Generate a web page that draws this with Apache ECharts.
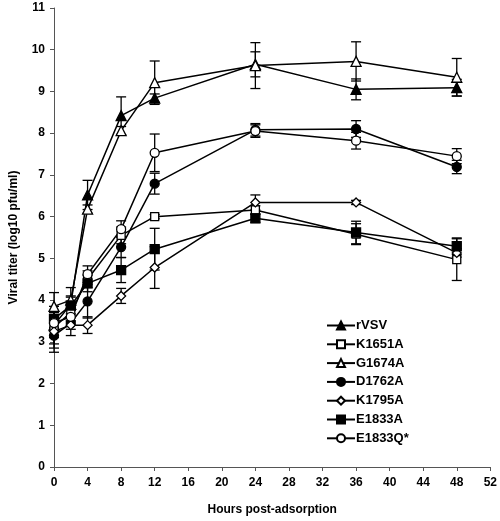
<!DOCTYPE html>
<html>
<head>
<meta charset="utf-8">
<script src="https://cdn.jsdelivr.net/npm/echarts@6/dist/echarts.min.js"></script>
<style>html,body{margin:0;padding:0;background:#fff;}#c{width:500px;height:521px;}</style>
</head>
<body>
<div id="c"></div>
<script>
var hours = [0, 2, 4, 8, 12, 24, 36, 48];
var xTicks = [0, 4, 8, 12, 16, 20, 24, 28, 32, 36, 40, 44, 48, 52];
var yTicks = [0, 1, 2, 3, 4, 5, 6, 7, 8, 9, 10, 11];

var seriesNames = ['rVSV', 'K1651A', 'G1674A', 'D1762A', 'K1795A', 'E1833A', 'E1833Q*'];

var rVSV    = [3.40, 3.90, 6.52, 8.42, 8.84, 9.65, 9.05, 9.09];
var K1651A  = [3.35, 3.70, 4.50, 5.55, 6.00, 6.16, 5.58, 4.97];
var G1674A  = [3.85, 4.00, 6.18, 8.06, 9.21, 9.62, 9.72, 9.34];
var D1762A  = [3.15, 3.45, 3.97, 5.27, 6.79, 8.08, 8.10, 7.19];
var K1795A  = [3.25, 3.40, 3.40, 4.10, 4.78, 6.34, 6.34, 5.13];
var E1833A  = [3.55, 3.87, 4.40, 4.72, 5.22, 5.96, 5.62, 5.29];
var E1833Q  = [3.45, 3.60, 4.62, 5.70, 7.53, 8.05, 7.82, 7.45];

var rVSVErr   = [0.30, 0.40, 0.35, 0.45, 0.10, 0.30, 0.25, 0.20];
var K1651AErr = [0.50, 0.10, 0.20, 0.20, 0.05, 0.10, 0.25, 0.50];
var G1674AErr = [0.33, 0.10, 0.10, 0.10, 0.52, 0.55, 0.47, 0.45];
var D1762AErr = [0.40, 0.30, 0.40, 0.25, 0.25, 0.15, 0.20, 0.16];
var K1795AErr = [0.30, 0.10, 0.20, 0.18, 0.50, 0.18, 0.05, 0.10];
var E1833AErr = [0.20, 0.20, 0.20, 0.30, 0.50, 0.10, 0.27, 0.20];
var E1833QErr = [0.20, 0.20, 0.20, 0.20, 0.45, 0.15, 0.20, 0.18];

var allValues = [rVSV, K1651A, G1674A, D1762A, K1795A, E1833A, E1833Q];
var allErrors = [rVSVErr, K1651AErr, G1674AErr, D1762AErr, K1795AErr, E1833AErr, E1833QErr];
var symbols = ['triangle', 'rect', 'triangle', 'circle', 'diamond', 'rect', 'circle'];
var filled = [true, false, false, true, false, true, false];
var symSizes = [10, 8, 10, 9, 9, 9, 9];

var FONT = '"Liberation Sans", Arial, sans-serif';

var series = [];
// error bars first
allValues.forEach(function (vals, si) {
  var data = hours.map(function (h, i) { return [h, vals[i], allErrors[si][i]]; });
  series.push({
    type: 'custom',
    silent: true,
    z: 1,
    data: data,
    renderItem: function (params, api) {
      var x = api.value(0), y = api.value(1), e = api.value(2);
      var top = api.coord([x, y + e]);
      var bot = api.coord([x, y - e]);
      var cw = 5;
      var st = { stroke: '#000', lineWidth: 1.3 };
      return {
        type: 'group',
        children: [
          { type: 'line', shape: { x1: top[0], y1: top[1], x2: bot[0], y2: bot[1] }, style: st },
          { type: 'line', shape: { x1: top[0] - cw, y1: top[1], x2: top[0] + cw, y2: top[1] }, style: st },
          { type: 'line', shape: { x1: bot[0] - cw, y1: bot[1], x2: bot[0] + cw, y2: bot[1] }, style: st }
        ]
      };
    }
  });
});
allValues.forEach(function (vals, si) {
  series.push({
    name: seriesNames[si],
    type: 'line',
    z: 3,
    data: hours.map(function (h, i) { return [h, vals[i]]; }),
    symbol: symbols[si],
    symbolSize: symSizes[si],
    showAllSymbol: true,
    lineStyle: { color: '#000', width: 1.5 },
    itemStyle: { color: filled[si] ? '#000' : '#fff', borderColor: '#000', borderWidth: 1.3 },
    emphasis: { disabled: true },
    animation: false
  });
});

var chart = echarts.init(document.getElementById('c'), null, { renderer: 'canvas' });
chart.setOption({
  animation: false,
  backgroundColor: '#fff',
  textStyle: { fontFamily: FONT },
  grid: { left: 48, right: 7, top: 8, bottom: 50, containLabel: false },
  legend: {
    orient: 'vertical',
    left: 321,
    top: 314,
    itemWidth: 28,
    itemHeight: 10,
    itemGap: 5.8,
    data: seriesNames,
    textStyle: { fontFamily: FONT, fontWeight: 'bold', fontSize: 13, color: '#000', padding: [0, 0, 0, -4] },
    selectedMode: false
  },
  xAxis: {
    type: 'value',
    min: 0, max: 52, interval: 4,
    name: 'Hours post-adsorption',
    nameLocation: 'middle',
    nameGap: 37,
    nameTextStyle: { fontFamily: FONT, fontWeight: 'bold', fontSize: 12, color: '#000' },
    axisLine: { lineStyle: { color: '#555', width: 1 } },
    axisTick: { show: true, length: 4, lineStyle: { color: '#555' } },
    axisLabel: { fontFamily: FONT, fontWeight: 'bold', fontSize: 12, color: '#000', margin: 10,
      customValues: xTicks },
    splitLine: { show: false }
  },
  yAxis: {
    type: 'value',
    min: 0, max: 11, interval: 1,
    name: 'Viral titer (log10 pfu/ml)',
    nameLocation: 'middle',
    nameGap: 34,
    nameRotate: 90,
    nameTextStyle: { fontFamily: FONT, fontWeight: 'bold', fontSize: 12, color: '#000' },
    axisLine: { show: true, lineStyle: { color: '#555', width: 1 } },
    axisTick: { show: true, length: 4, lineStyle: { color: '#555' } },
    axisLabel: { fontFamily: FONT, fontWeight: 'bold', fontSize: 12, color: '#000', margin: 9 },
    splitLine: { show: false }
  },
  series: series
});
</script>
</body>
</html>
